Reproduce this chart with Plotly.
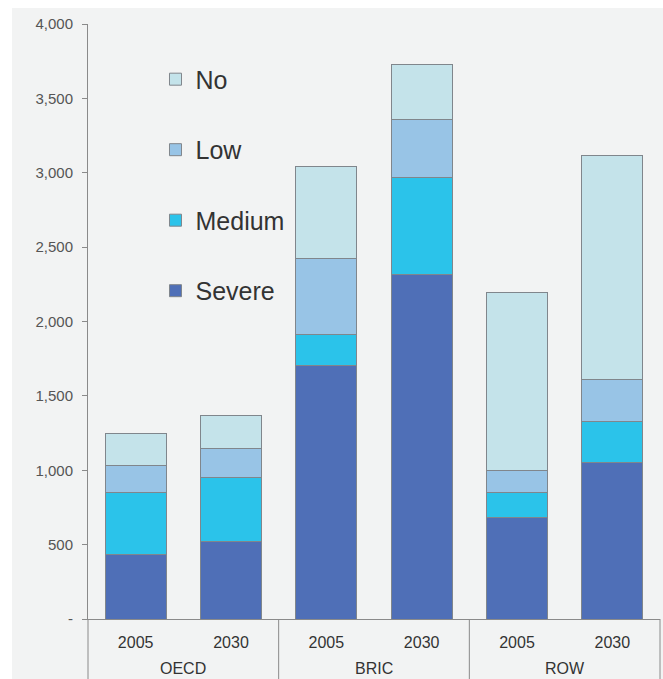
import plotly.graph_objects as go

# Groups and years along the x axis
group_names = ["OECD", "BRIC", "ROW"]
groups = ["OECD", "OECD", "BRIC", "BRIC", "ROW", "ROW"]
years = ["2005", "2030", "2005", "2030", "2005", "2030"]

# Stacked segments, bottom to top
severe = [437, 520, 1703, 2317, 681, 1051]
medium = [414, 432, 213, 654, 171, 280]
low = [184, 193, 509, 384, 145, 276]
no = [213, 226, 616, 374, 1195, 1508]

series_names = ["Severe", "Medium", "Low", "No"]
series_values = [severe, medium, low, no]
series_colors = ["#4f6fb7", "#2bc3ea", "#98c4e6", "#c4e3ea"]

y_tickvals = [0, 500, 1000, 1500, 2000, 2500, 3000, 3500, 4000]
y_ticktext = ["-", "500", "1,000", "1,500", "2,000", "2,500", "3,000", "3,500", "4,000"]

BG = "#f2f3f3"
FONT = "Liberation Sans, Arial, sans-serif"

positions = list(range(len(years)))

fig = go.Figure()
n = len(series_names)
for i, (name, vals, color) in enumerate(zip(series_names, series_values, series_colors)):
    fig.add_trace(go.Bar(
        x=positions,
        y=vals,
        name=name,
        legendgroup=name,
        legendrank=n - i,
        marker=dict(color=color, line=dict(color="#80868c", width=1)),
        customdata=groups,
        hovertemplate="%{customdata} " + "%{text}<br>" + name + ": %{y:,}<extra></extra>",
        text=years, textposition="none",
    ))

# Light grey backdrop and the boxed category area under the axis
shapes = [dict(type="rect", xref="paper", yref="paper",
               x0=-0.1329, x1=1.006, y0=-0.11, y1=1.0269,
               fillcolor=BG, line=dict(width=0), layer="below")]
n_groups = len(group_names)
for k in range(n_groups + 1):
    xp = k / n_groups
    shapes.append(dict(type="line", xref="paper", yref="paper",
                       x0=xp, x1=xp, y0=0, y1=-0.11,
                       line=dict(color="#8a8a8a", width=1)))

# Group names centred under each pair of bars
annotations = []
for g in group_names:
    idx = [p for p, gg in zip(positions, groups) if gg == g]
    annotations.append(dict(
        x=sum(idx) / len(idx), xref="x", y=-0.084, yref="paper",
        text=g, showarrow=False, xanchor="center", yanchor="middle",
        font=dict(size=16, color="#333333", family=FONT),
    ))

fig.update_layout(
    width=663, height=679,
    margin=dict(l=88, r=3, t=24, b=60),
    paper_bgcolor="white",
    plot_bgcolor="rgba(0,0,0,0)",
    barmode="stack",
    bargap=0.36,
    font=dict(family=FONT, color="#333333"),
    shapes=shapes,
    annotations=annotations,
    showlegend=True,
    legend=dict(
        x=0.118, y=0.9455, xanchor="left", yanchor="top",
        traceorder="grouped",
        tracegroupgap=35,
        bgcolor="rgba(0,0,0,0)",
        font=dict(size=25, color="#333333", family=FONT),
    ),
    xaxis=dict(
        range=[-0.5, len(years) - 0.5],
        tickvals=positions, ticktext=years,
        showline=True, linecolor="#8a8a8a", linewidth=1,
        showgrid=False, zeroline=False, ticks="",
        ticklabelstandoff=9,
        tickfont=dict(size=16, color="#333333", family=FONT),
    ),
    yaxis=dict(
        range=[0, 4000],
        tickvals=y_tickvals, ticktext=y_ticktext,
        showline=True, linecolor="#8a8a8a", linewidth=1,
        ticks="outside", ticklen=5, tickcolor="#8a8a8a",
        showgrid=False, zeroline=False,
        ticklabelstandoff=6,
        tickfont=dict(size=15, color="#555555", family=FONT),
    ),
)

fig.write_html("out.html")
